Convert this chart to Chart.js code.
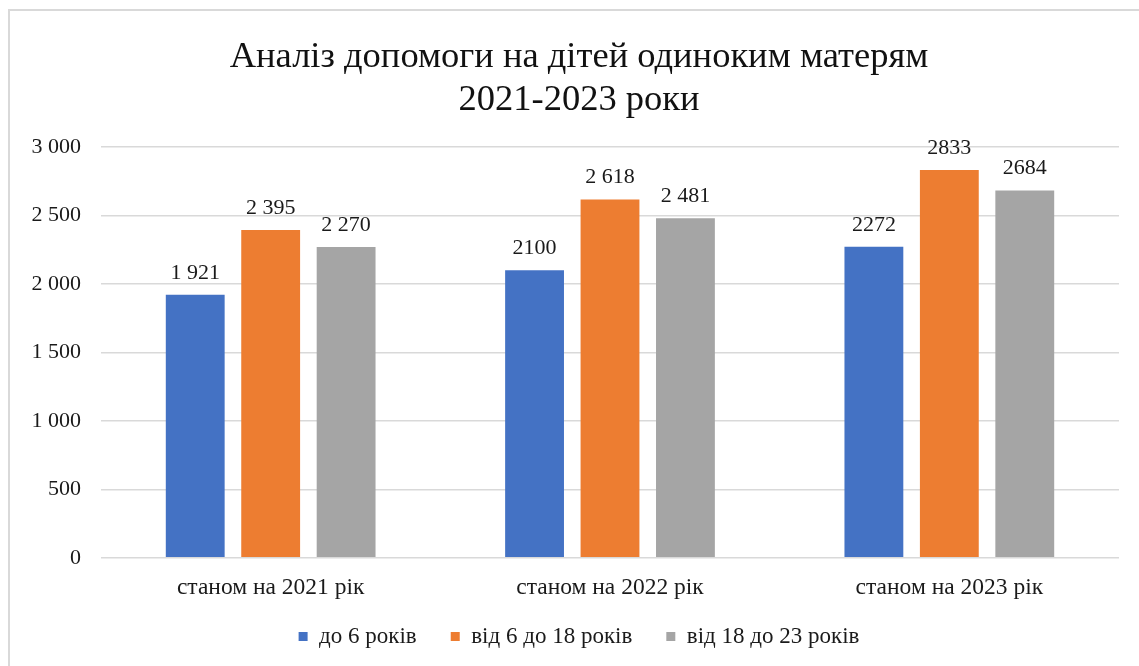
<!DOCTYPE html>
<html>
<head>
<meta charset="utf-8">
<script src="https://cdn.jsdelivr.net/npm/chart.js@4"></script>
<style>
  html, body { margin: 0; padding: 0; background: #fff; width: 1139px; height: 666px; overflow: hidden; }
  #frame { position: absolute; left: 8px; top: 9px; width: 1160px; height: 700px; border: 2px solid #d9d9d9; box-sizing: border-box; }
  #wrap { position: absolute; left: 0; top: 0; width: 1139px; height: 666px; }
</style>
</head>
<body>
<div id="frame"></div>
<div id="wrap"><canvas id="c" width="1139" height="666"></canvas></div>
<script>
const categories = ['станом на 2021 рік', 'станом на 2022 рік', 'станом на 2023 рік'];
const seriesNames = ['до 6 років', 'від 6 до 18 років', 'від 18 до 23 років'];
const under6 = [1921, 2100, 2272];
const from6to18 = [2395, 2618, 2833];
const from18to23 = [2270, 2481, 2684];
const under6Labels = ['1 921', '2100', '2272'];
const from6to18Labels = ['2 395', '2 618', '2833'];
const from18to23Labels = ['2 270', '2 481', '2684'];
const yTicks = [0, 500, 1000, 1500, 2000, 2500, 3000];
const yTickLabels = ['0', '500', '1 000', '1 500', '2 000', '2 500', '3 000'];
const colors = ['#4472C4', '#ED7D31', '#A5A5A5'];

const FONT = '"Liberation Serif", "Times New Roman", serif';

const valueLabels = {
  id: 'valueLabels',
  afterDatasetsDraw(chart) {
    const ctx = chart.ctx;
    ctx.save();
    ctx.font = '22px ' + FONT;
    ctx.fillStyle = '#1a1a1a';
    ctx.textAlign = 'center';
    ctx.textBaseline = 'alphabetic';
    chart.data.datasets.forEach((ds, i) => {
      const meta = chart.getDatasetMeta(i);
      meta.data.forEach((el, j) => {
        ctx.fillText(ds.valueLabels[j], el.x, el.y - 16);
      });
    });
    ctx.restore();
  }
};

// shift title and legend boxes to the right (their centre sits right of the plot centre in the reference)
const boxShift = {
  id: 'boxShift',
  afterLayout(chart) {
    const dx = 19.5;
    const t = chart.titleBlock;
    if (t) { t.left += dx; t.right += dx; }
    const l = chart.legend;
    if (l) { l.left += dx; l.right += dx; l.top -= 19; l.bottom -= 19; }
  }
};

new Chart(document.getElementById('c'), {
  type: 'bar',
  data: {
    labels: categories,
    datasets: [
      { label: seriesNames[0], data: under6, valueLabels: under6Labels, backgroundColor: colors[0] },
      { label: seriesNames[1], data: from6to18, valueLabels: from6to18Labels, backgroundColor: colors[1] },
      { label: seriesNames[2], data: from18to23, valueLabels: from18to23Labels, backgroundColor: colors[2] }
    ]
  },
  options: {
    responsive: false,
    animation: false,
    categoryPercentage: 0.667,
    barPercentage: 0.78,
    layout: { padding: { left: 0, right: 20, top: 0, bottom: -11 } },
    plugins: {
      title: {
        display: true,
        text: ['Аналіз допомоги на дітей одиноким матерям', '2021-2023 роки'],
        color: '#111',
        font: { family: FONT, size: 36.5, weight: 'normal', lineHeight: 1.18 },
        padding: { top: 36, bottom: 25 }
      },
      legend: {
        position: 'bottom',
        labels: {
          color: '#1a1a1a',
          font: { family: FONT, size: 23 },
          boxWidth: 9,
          boxHeight: 9,
          padding: 34
        }
      },
      tooltip: { enabled: false }
    },
    scales: {
      x: {
        grid: { display: false },
        border: { display: false },
        ticks: { color: '#1a1a1a', font: { family: FONT, size: 23.5 }, padding: 8 }
      },
      y: {
        min: 0,
        max: 3000,
        afterFit(scale) { scale.width = 101; },
        afterBuildTicks(scale) { scale.ticks = yTicks.map(v => ({ value: v })); },
        grid: { color: '#d9d9d9', lineWidth: 1.5, drawTicks: false },
        border: { display: false },
        ticks: {
          color: '#1a1a1a',
          font: { family: FONT, size: 22 },
          padding: 20,
          callback(value) { const k = yTicks.indexOf(value); return k >= 0 ? yTickLabels[k] : ''; }
        }
      }
    }
  },
  plugins: [valueLabels, boxShift]
});
</script>
</body>
</html>
